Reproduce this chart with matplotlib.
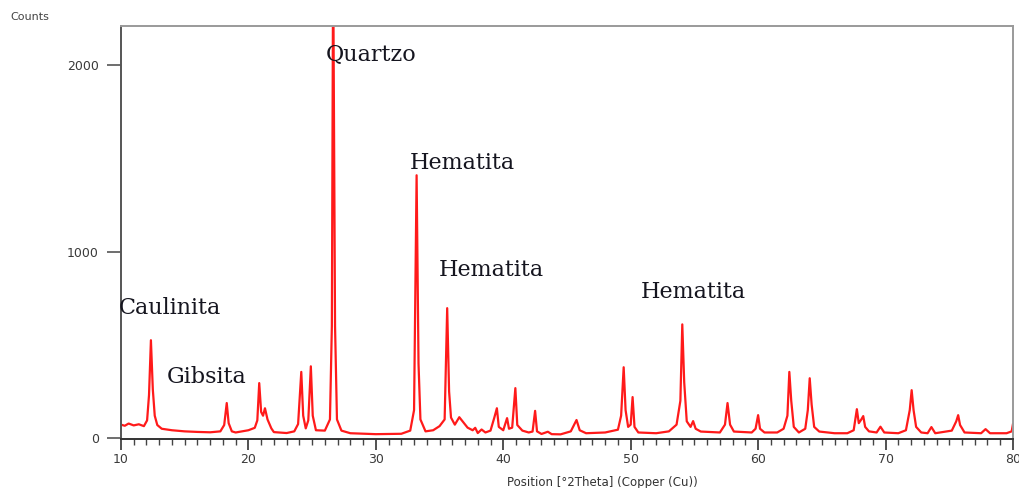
import matplotlib
matplotlib.use("Agg")
import matplotlib.pyplot as plt
from matplotlib.ticker import MultipleLocator

# Diffractogram trace, read as a polyline (2theta in degrees, counts)
two_theta = [
    10.0, 10.3, 10.6, 11.0, 11.4, 11.8, 12.05, 12.2, 12.35, 12.5, 12.65, 12.85, 13.2, 14.0, 15.0, 16.0, 17.0, 17.8,
    18.1, 18.3, 18.45, 18.7, 19.0, 20.0, 20.5, 20.7, 20.85, 21.0, 21.15, 21.3, 21.5, 21.8, 22.0, 23.0,
    23.6, 23.9, 24.15, 24.3, 24.5, 24.7, 24.9, 25.05, 25.3, 26.0, 26.4, 26.55, 26.65, 26.8, 26.95, 27.3,
    28.0, 30.0, 32.0, 32.7, 33.0, 33.2, 33.35, 33.5, 33.9, 34.5, 35.0, 35.4, 35.6, 35.75, 35.9, 36.2,
    36.55, 36.9, 37.2, 37.6, 37.8, 38.0, 38.3, 38.6, 39.0, 39.3, 39.5, 39.65, 40.0, 40.3, 40.45, 40.7,
    40.95, 41.1, 41.5, 42.0, 42.3, 42.5, 42.65, 43.0, 43.5, 43.8, 44.5, 45.3, 45.75, 46.0, 46.5, 48.0,
    49.0, 49.25, 49.45, 49.6, 49.8, 50.0, 50.15, 50.3, 50.6, 52.0, 53.0, 53.6, 53.9, 54.05, 54.2, 54.4,
    54.7, 54.9, 55.1, 55.5, 57.0, 57.4, 57.6, 57.8, 58.1, 59.5, 59.8, 60.0, 60.15, 60.5, 61.5, 62.0,
    62.3, 62.45, 62.6, 62.8, 63.2, 63.7, 63.9, 64.05, 64.2, 64.4, 64.8, 66.0, 67.0, 67.5, 67.75, 67.9,
    68.1, 68.25, 68.4, 68.7, 69.3, 69.6, 69.9, 71.0, 71.6, 71.9, 72.05, 72.2, 72.4, 72.8, 73.3, 73.6,
    73.9, 75.2, 75.55, 75.7, 75.85, 76.2, 77.5, 77.85, 78.2, 79.5, 79.9, 80.0,
]
counts = [
    72, 66, 78, 68, 74, 64, 95, 230, 525, 260, 120, 70, 50, 42, 36, 33, 31, 36,
    70, 188, 80, 36, 30, 42, 55, 95, 295, 140, 120, 160, 100, 52, 32, 27,
    36, 75, 355, 120, 52, 95, 385, 120, 42, 40, 100, 600, 2600, 600, 100, 40,
    26, 21, 23, 40, 150, 1410, 400, 100, 36, 42, 64, 100, 697, 250, 110, 72,
    112, 82, 56, 42, 55, 27, 46, 30, 40, 110, 160, 60, 42, 107, 50, 56,
    268, 70, 40, 30, 35, 146, 36, 22, 34, 21, 20, 36, 97, 42, 26, 30,
    45, 120, 380, 150, 60, 72, 220, 60, 30, 26, 36, 72, 200, 610, 300, 90,
    60, 91, 50, 35, 30, 72, 188, 72, 35, 30, 50, 123, 50, 30, 30, 50,
    120, 355, 200, 60, 30, 50, 150, 321, 180, 60, 35, 26, 26, 42, 155, 80,
    100, 118, 60, 36, 30, 61, 30, 26, 42, 150, 257, 150, 60, 30, 26, 59,
    26, 40, 90, 123, 70, 30, 26, 48, 26, 26, 36, 75,
]

# Phase labels: name, 2theta, counts (text centre)
phase_names = ["Caulinita", "Gibsita", "Quartzo", "Hematita", "Hematita", "Hematita"]
phase_x = [13.85, 16.75, 29.65, 36.8, 39.1, 54.9]
phase_y = [697, 327, 2054, 1475, 900, 783]

fig = plt.figure(figsize=(10.2, 4.88), dpi=100)
ax = fig.add_axes([0.1186, 0.1004, 0.8745, 0.846])

ax.plot(two_theta, counts, color="#ff1a1a", linewidth=1.6, zorder=2)

for name, x, y in zip(phase_names, phase_x, phase_y):
    ax.text(x, y, name, ha="center", va="center", fontsize=16,
            family="DejaVu Serif", color="#15151f", zorder=3)

ax.set_xlim(10, 80)
ax.set_ylim(-5, 2210)
ax.xaxis.set_major_locator(MultipleLocator(10))
ax.xaxis.set_minor_locator(MultipleLocator(1))
ax.yaxis.set_major_locator(MultipleLocator(1000))

ax.tick_params(axis="x", which="major", direction="out", length=8, width=1.2,
               color="#333333", labelsize=9, labelcolor="#3a3a3a", pad=2)
ax.tick_params(axis="x", which="minor", direction="out", length=4, width=1.0,
               color="#444444")
ax.tick_params(axis="y", which="major", direction="out", length=10, width=1.2,
               color="#555555", labelsize=9, labelcolor="#3a3a3a", pad=6)

ax.spines["left"].set_color("#555555")
ax.spines["bottom"].set_color("#333333")
ax.spines["top"].set_color("#9a9a9a")
ax.spines["right"].set_color("#9a9a9a")
for side in ["left", "bottom", "top", "right"]:
    ax.spines[side].set_linewidth(1.4)

fig.text(0.01, 0.965, "Counts", fontsize=8, color="#444444", ha="left", va="center")
fig.text(0.591, 0.011, "Position [°2Theta] (Copper (Cu))", fontsize=8.5,
         color="#333333", ha="center", va="center")

fig.savefig("out.png", dpi=100)
